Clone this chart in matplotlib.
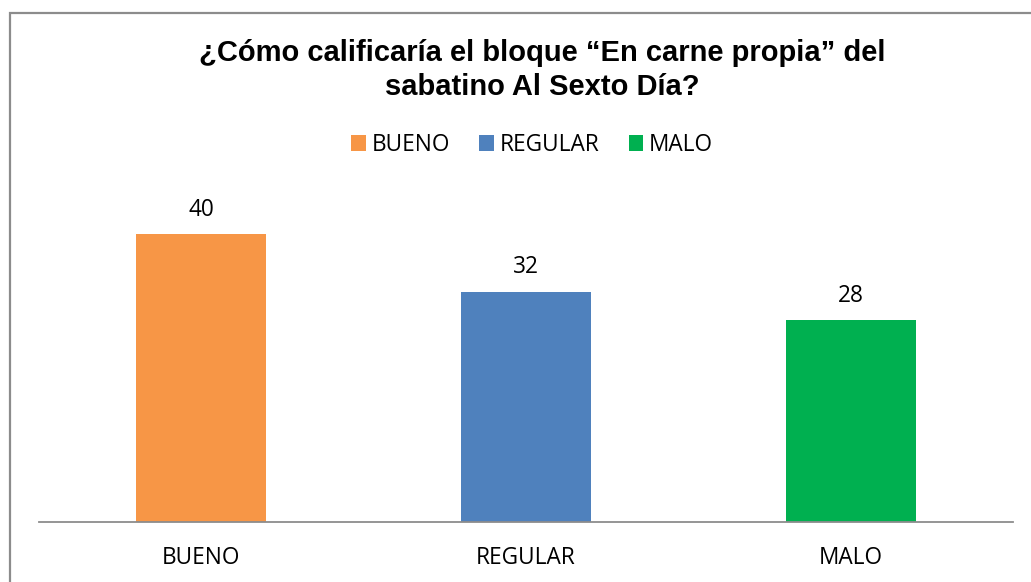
import matplotlib
matplotlib.use("Agg")
import matplotlib.pyplot as plt
from matplotlib.patches import Rectangle, Patch

categories = ["BUENO", "REGULAR", "MALO"]
values = [40, 32, 28]
colors = ["#F79646", "#4F81BD", "#00B050"]
title = "¿Cómo calificaría el bloque “En carne propia” del\nsabatino Al Sexto Día?"

W, H = 1031, 582
fig = plt.figure(figsize=(W / 100, H / 100), dpi=100)

# outer chart border (top and left visible)
fig.add_artist(Rectangle((10 / W, -0.1), 1.2, (H - 12.5) / H + 0.1, transform=fig.transFigure,
                         fill=False, edgecolor="#8C8C8C", linewidth=1.6))

ax = fig.add_axes([39 / W, (H - 521.5) / H, (1013 - 39) / W, (521.5 - 170) / H])
x = range(len(categories))
bars = ax.bar(x, values, width=0.4, color=colors)
ax.set_xlim(-0.5, 2.5)
ax.set_ylim(0, (521.5 - 170) / 7.18)
for s in ["top", "right", "left"]:
    ax.spines[s].set_visible(False)
ax.spines["bottom"].set_color("#8C8C8C")
ax.spines["bottom"].set_linewidth(1.3)
ax.set_yticks([])
ax.set_xticks(list(x))
ax.set_xticklabels(categories, fontfamily="Open Sans", fontsize=16.3)
ax.tick_params(axis="x", length=0, pad=18)

for b, v in zip(bars, values):
    ax.annotate(str(v), (b.get_x() + b.get_width() / 2, v), xytext=(0, 9),
                textcoords="offset points", ha="center", va="bottom",
                fontfamily="Open Sans", fontsize=16.3)

fig.text(542 / W, 1 - 70 / H, title, ha="center", va="center", multialignment="center",
         fontfamily="Liberation Sans", fontweight="bold", fontsize=21, linespacing=1.25)

handles = [Patch(facecolor=c, label=l) for c, l in zip(colors, categories)]
fig.legend(handles=handles, loc="center", bbox_to_anchor=(532 / W, 1 - 145 / H), ncol=3,
           frameon=False, prop={"family": "Open Sans", "size": 16.3},
           handlelength=0.65, handleheight=0.65, handletextpad=0.25, columnspacing=1.3)

fig.savefig("out.png", dpi=100)
